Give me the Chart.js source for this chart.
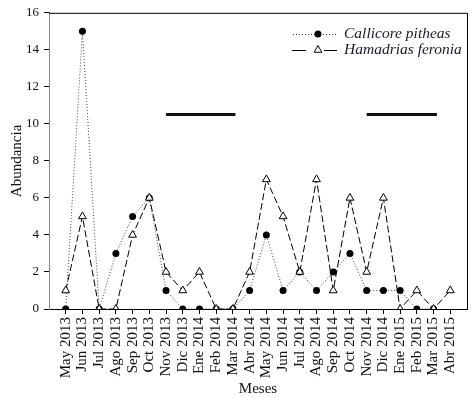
<!DOCTYPE html>
<html><head><meta charset="utf-8">
<script src="https://cdn.jsdelivr.net/npm/chart.js@4/dist/chart.umd.min.js"></script>
<style>html,body{margin:0;padding:0;background:#fff}canvas{display:block}</style>
</head><body>
<canvas id="c" width="475" height="398"></canvas>
<script>
const months = ['May 2013','Jun 2013','Jul 2013','Ago 2013','Sep 2013','Oct 2013','Nov 2013','Dic 2013','Ene 2014','Feb 2014','Mar 2014','Abr 2014','May 2014','Jun 2014','Jul 2014','Ago 2014','Sep 2014','Oct 2014','Nov 2014','Dic 2014','Ene 2015','Feb 2015','Mar 2015','Abr 2015'];
const callicore = [0,15,0,3,5,6,1,0,0,0,0,1,4,1,2,1,2,3,1,1,1,0,0,null];
const hamadrias = [1,5,0,0,4,6,2,1,2,0,0,2,7,5,2,7,1,6,2,6,0,1,0,1];
const yTicks = [0,2,4,6,8,10,12,14,16];
const seriesNames = ['Callicore pitheas','Hamadrias feronia'];
const periodBar1X = [6, 10.15];
const periodBar2X = [18, 22.2];
const periodBarY = 10.5;

const toXY = arr => arr.map((v,i)=>({x:i,y:v}));
const SERIF = "'Liberation Serif', 'Times New Roman', serif";

const frameAndLegend = {
  id:'frameAndLegend',
  afterDraw(chart){
    const {ctx, chartArea:a} = chart;
    ctx.save();
    ctx.strokeStyle = '#000'; ctx.lineWidth = 1; ctx.setLineDash([]);
    ctx.beginPath();
    ctx.moveTo(a.left, a.top+0.5); ctx.lineTo(a.right+0.5, a.top+0.5);
    ctx.lineTo(a.right+0.5, a.bottom);
    ctx.stroke();
    // legend
    const y1 = 34, y2 = 50, xm = 318, xt = 344;
    ctx.strokeStyle = '#444'; ctx.setLineDash([1,2]);
    ctx.beginPath(); ctx.moveTo(293,y1+0.5); ctx.lineTo(337,y1+0.5); ctx.stroke();
    ctx.setLineDash([]);
    ctx.fillStyle = '#000';
    ctx.beginPath(); ctx.arc(xm,y1,3.5,0,Math.PI*2); ctx.fill();
    ctx.strokeStyle = '#000';
    ctx.beginPath(); ctx.moveTo(292,y2+0.5); ctx.lineTo(306,y2+0.5);
    ctx.moveTo(324,y2+0.5); ctx.lineTo(337,y2+0.5); ctx.stroke();
    ctx.beginPath(); ctx.moveTo(xm,y2-4.5); ctx.lineTo(xm+3.9,y2+2.25); ctx.lineTo(xm-3.9,y2+2.25); ctx.closePath();
    ctx.fillStyle='#fff'; ctx.fill(); ctx.stroke();
    ctx.fillStyle = '#1a1a2a';
    ctx.font = "italic 15.5px " + SERIF;
    ctx.textBaseline = 'middle'; ctx.textAlign='left';
    ctx.fillText(seriesNames[0], xt, y1);
    ctx.fillText(seriesNames[1], xt, y2);
    ctx.restore();
  }
};

new Chart(document.getElementById('c'), {
  type:'line',
  data:{
    datasets:[
      {label:seriesNames[1], data:toXY(hamadrias), order:0,
       borderColor:'#000', borderWidth:1, borderDash:[7,3], tension:0,
       pointStyle:'triangle', pointRadius:4.5, pointBackgroundColor:'#fff', pointBorderColor:'#000', pointBorderWidth:1},
      {label:seriesNames[0], data:toXY(callicore), order:1,
       borderColor:'#444', borderWidth:1, borderDash:[1,2], tension:0,
       pointStyle:'circle', pointRadius:3.5, pointBackgroundColor:'#000', pointBorderColor:'#000', pointBorderWidth:0},
      {label:'p1', data:periodBar1X.map(x=>({x, y:periodBarY})), order:2,
       borderColor:'#111', borderWidth:3, pointRadius:0},
      {label:'p2', data:periodBar2X.map(x=>({x, y:periodBarY})), order:2,
       borderColor:'#111', borderWidth:3, pointRadius:0}
    ]
  },
  options:{
    responsive:false, animation:false, devicePixelRatio:1,
    layout:{padding:{top:11,right:8,left:0,bottom:0}},
    plugins:{legend:{display:false}, tooltip:{enabled:false}},
    scales:{
      x:{type:'linear', min:-1, max:24,
        afterBuildTicks: s => { s.ticks = months.map((m,i)=>({value:i})); },
        afterFit: s => { s.height = 89; },
        ticks:{autoSkip:false, minRotation:90, maxRotation:90, padding:3, color:'#111',
          font:{family:SERIF, size:15}, callback:(v)=>months[v] ?? ''},
        grid:{drawOnChartArea:false, drawTicks:true, tickLength:5, color:'#000'},
        border:{display:true, color:'#000', width:1},
        title:{display:true, text:'Meses', color:'#111', font:{family:SERIF, size:15}, padding:{top:0,bottom:0}}
      },
      y:{min:0, max:16,
        afterBuildTicks: s => { s.ticks = yTicks.map(v=>({value:v})); },
        afterFit: s => { s.width = 49; },
        ticks:{padding:5, color:'#111', font:{family:SERIF, size:13}},
        grid:{drawOnChartArea:false, drawTicks:true, tickLength:5, color:'#000'},
        border:{display:true, color:'#888', width:1},
        title:{display:true, text:'Abundancia', color:'#111', font:{family:SERIF, size:15}, padding:{top:8,bottom:0}}
      }
    }
  },
  plugins:[frameAndLegend]
});
</script>
</body></html>
